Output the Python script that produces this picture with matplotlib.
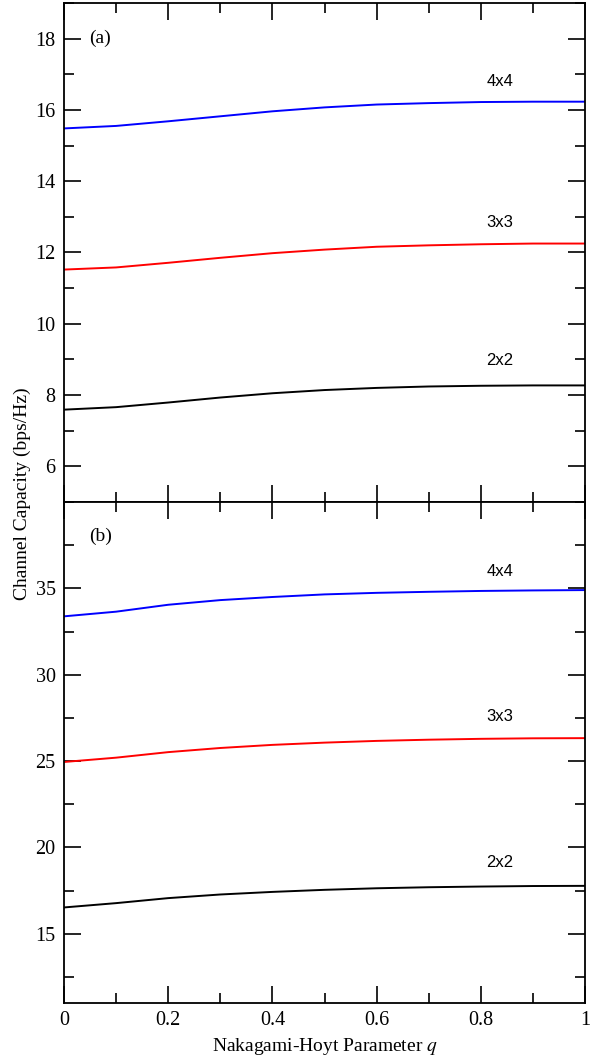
import numpy as np
import matplotlib
matplotlib.use("Agg")
import matplotlib.pyplot as plt
from matplotlib.ticker import MultipleLocator, FixedLocator

plt.rcParams["mathtext.fontset"] = "stix"

# Nakagami-Hoyt parameter q
q = [0.0, 0.1, 0.2, 0.3, 0.4, 0.5, 0.6, 0.7, 0.8, 0.9, 1.0]

# (a) capacity, bps/Hz
cap_a_2x2 = [7.59, 7.66, 7.79, 7.93, 8.05, 8.14, 8.20, 8.24, 8.26, 8.27, 8.27]
cap_a_3x3 = [11.52, 11.58, 11.71, 11.85, 11.98, 12.08, 12.16, 12.20, 12.23, 12.25, 12.25]
cap_a_4x4 = [15.48, 15.55, 15.68, 15.82, 15.96, 16.07, 16.15, 16.19, 16.22, 16.23, 16.23]

# (b) capacity, bps/Hz
cap_b_2x2 = [16.53, 16.78, 17.07, 17.28, 17.43, 17.55, 17.64, 17.70, 17.74, 17.77, 17.78]
cap_b_3x3 = [24.95, 25.20, 25.52, 25.76, 25.94, 26.07, 26.17, 26.24, 26.29, 26.32, 26.33]
cap_b_4x4 = [33.38, 33.65, 34.05, 34.32, 34.50, 34.65, 34.74, 34.80, 34.85, 34.88, 34.90]

yticks_a = [6, 8, 10, 12, 14, 16, 18]
yticks_b = [15, 20, 25, 30, 35]
xticks = [0, 0.2, 0.4, 0.6, 0.8, 1.0]
xtick_labels = ["0", "0.2", "0.4", "0.6", "0.8", "1"]

serif = "Liberation Serif"
sans = "Liberation Sans"

fig = plt.figure(figsize=(6.02, 10.55), dpi=100)
ax1 = fig.add_axes([0.1063, 0.5242, 0.8655, 0.4730])
ax2 = fig.add_axes([0.1063, 0.0493, 0.8655, 0.4749], sharex=ax1)


def style(ax, major_ticks, minor):
    ax.xaxis.set_major_locator(FixedLocator(xticks))
    ax.xaxis.set_minor_locator(MultipleLocator(0.1))
    ax.yaxis.set_major_locator(FixedLocator(major_ticks))
    ax.yaxis.set_minor_locator(MultipleLocator(minor))
    ax.tick_params(which="both", direction="in", top=True, right=True,
                   width=1.2, labelsize=14.5, pad=6)
    ax.tick_params(which="major", length=12)
    ax.tick_params(which="minor", length=7)
    for s in ax.spines.values():
        s.set_linewidth(1.3)
    for lab in ax.get_xticklabels() + ax.get_yticklabels():
        lab.set_fontfamily(serif)


ax1.plot(q, cap_a_4x4, color="blue", lw=1.4)
ax1.plot(q, cap_a_3x3, color="red", lw=1.4)
ax1.plot(q, cap_a_2x2, color="black", lw=1.4)
ax1.set_xlim(0, 1)
ax1.set_ylim(5, 19)
style(ax1, yticks_a, 1)
ax1.tick_params(labelbottom=False)
ax1.text(0.048, 18, "(a)", fontsize=14, family=serif, va="center", ha="left")
ax1.text(0.837, 16.8, "4x4", fontsize=12, family=sans, ha="center", va="center")
ax1.text(0.837, 12.84, "3x3", fontsize=12, family=sans, ha="center", va="center")
ax1.text(0.837, 8.97, "2x2", fontsize=12, family=sans, ha="center", va="center")

ax2.plot(q, cap_b_4x4, color="blue", lw=1.4)
ax2.plot(q, cap_b_3x3, color="red", lw=1.4)
ax2.plot(q, cap_b_2x2, color="black", lw=1.4)
ax2.set_ylim(11, 40)
style(ax2, yticks_b, 2.5)
ax2.set_xticklabels(xtick_labels, fontfamily=serif)
ax2.text(0.048, 38, "(b)", fontsize=14, family=serif, va="center", ha="left")
ax2.text(0.837, 36.0, "4x4", fontsize=12, family=sans, ha="center", va="center")
ax2.text(0.837, 27.6, "3x3", fontsize=12, family=sans, ha="center", va="center")
ax2.text(0.837, 19.13, "2x2", fontsize=12, family=sans, ha="center", va="center")
ax2.set_xlabel("Nakagami-Hoyt Parameter $q$", fontsize=14, family=serif, labelpad=4)

fig.text(0.037, 0.532, "Channel Capacity (bps/Hz)", rotation=90, fontsize=14,
         family=serif, ha="center", va="center")

fig.savefig("out.png", dpi=100)
